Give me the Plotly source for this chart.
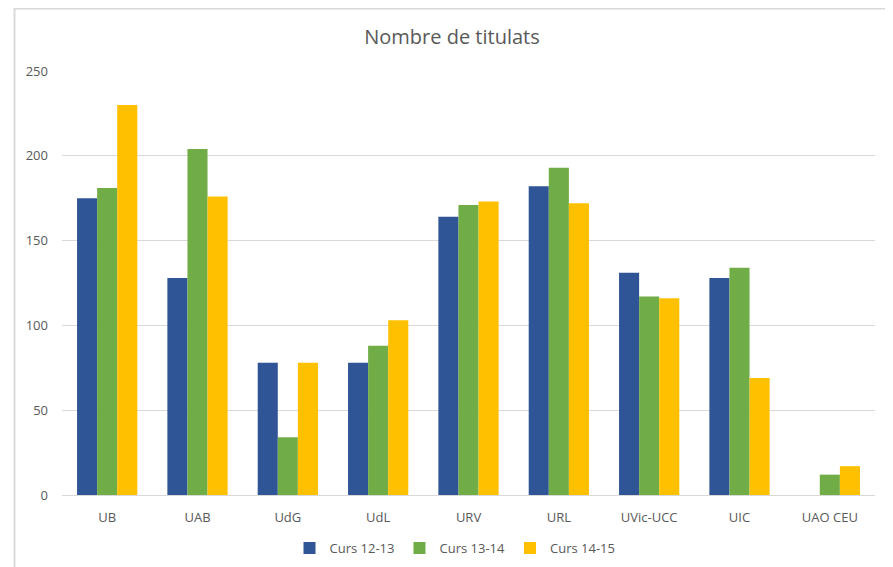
import plotly.graph_objects as go

categories = ["UB", "UAB", "UdG", "UdL", "URV", "URL", "UVic-UCC", "UIC", "UAO CEU"]
curs_12_13 = [175, 128, 78, 78, 164, 182, 131, 128, None]
curs_13_14 = [181, 204, 34, 88, 171, 193, 117, 134, 12]
curs_14_15 = [230, 176, 78, 103, 173, 172, 116, 69, 17]
series_names = ["Curs 12-13", "Curs 13-14", "Curs 14-15"]
colors = ["#2F5597", "#70AD47", "#FFC000"]
y_ticks = [0, 50, 100, 150, 200, 250]

# page has an 8px body margin; work in page pixels and subtract it
OFF = 8
W, H = 893 - OFF, 567 - OFF
L = 62 - OFF
T = 71 - OFF
R = W - (875 - OFF)
B = H - (495 - OFF)
pw, ph = W - L - R, H - T - B

def px_x(p):
    return (p - OFF - L) / pw

def px_y(p):
    return 1 - (p - OFF - T) / ph

fig = go.Figure()
for name, vals, c in zip(series_names, [curs_12_13, curs_13_14, curs_14_15], colors):
    fig.add_trace(go.Bar(x=categories, y=vals, name=name, marker_color=c,
                         marker_line_width=0))

font_family = "Open Sans, Liberation Sans, sans-serif"
fig.update_layout(
    width=W, height=H,
    margin=dict(l=L, r=R, t=T, b=B, autoexpand=False),
    paper_bgcolor="white", plot_bgcolor="white",
    barmode="group", bargap=0.333, bargroupgap=0,
    font=dict(family=font_family, color="#595959", size=13),
    title=dict(text="Nombre de titulats", x=(452 - OFF) / W, xanchor="center",
               y=1 - (37 - OFF) / H, yanchor="middle",
               font=dict(size=20, color="#595959", family=font_family)),
    legend=dict(orientation="h", x=px_x(455), xanchor="center",
                y=px_y(548), yanchor="middle",
                font=dict(size=13, color="#595959"), itemwidth=30,
                traceorder="normal"),
    xaxis=dict(showgrid=False, showline=True, linecolor="#d9d9d9", linewidth=1,
               ticks="", ticklabelstandoff=10, tickfont=dict(size=13, color="#595959")),
    yaxis=dict(range=[0, 250], tickvals=y_ticks, showgrid=True, gridcolor="#d9d9d9",
               gridwidth=1, zeroline=False, showline=False, ticks="",
               ticklabelstandoff=13, tickfont=dict(size=13, color="#595959")),
    shapes=[dict(type="rect", xref="paper", yref="paper",
                 x0=px_x(14.5), x1=px_x(886.5),
                 y0=px_y(580), y1=px_y(8.5),
                 line=dict(color="#d9d9d9", width=2), fillcolor="rgba(0,0,0,0)",
                 layer="below")],
)

fig.write_html("out.html")
